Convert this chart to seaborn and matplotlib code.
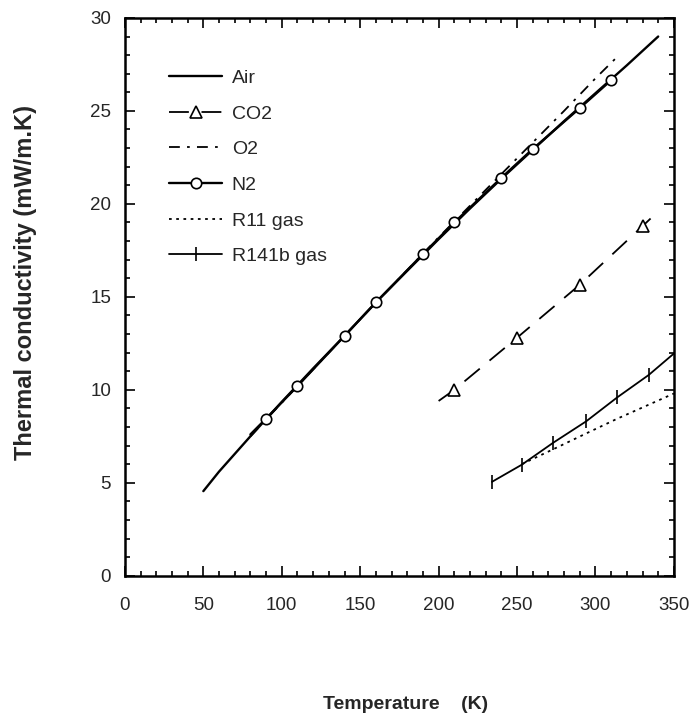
import numpy as np
import pandas as pd
import seaborn as sns
import matplotlib
matplotlib.use('Agg')
import matplotlib.pyplot as plt
from matplotlib.ticker import MultipleLocator

# values (T in K, k in mW/m.K)
air_T = [50, 60, 80, 100, 120, 140, 160, 180, 200, 220, 240, 260, 280, 300, 320, 340]
air_k = [4.55, 5.6, 7.5, 9.35, 11.15, 12.9, 14.7, 16.4, 18.1, 19.75, 21.35, 22.9, 24.45, 25.95, 27.45, 29.0]

co2_T = [200, 210, 250, 290, 330, 340]
co2_k = [9.4, 10.0, 12.8, 15.65, 18.8, 19.6]

o2_T = [80, 100, 150, 200, 220, 240, 260, 280, 300, 315]
o2_k = [7.5, 9.3, 13.8, 18.2, 19.9, 21.6, 23.3, 25.0, 26.75, 28.0]

n2_T = [80, 90, 110, 140, 160, 190, 210, 240, 260, 290, 310]
n2_k = [7.6, 8.45, 10.2, 12.9, 14.7, 17.3, 19.0, 21.4, 22.95, 25.15, 26.65]

r11_T = [253, 273, 294, 314, 334, 350]
r11_k = [6.0, 6.8, 7.65, 8.45, 9.2, 9.8]

r141b_T = [234, 253, 273, 294, 314, 334, 350]
r141b_k = [5.05, 5.97, 7.15, 8.3, 9.6, 10.8, 11.95]

sns.set_style('ticks')
plt.rcParams['font.family'] = ['Liberation Sans', 'DejaVu Sans']

fig = plt.figure(figsize=(6.94, 7.17), dpi=100)
ax = fig.add_axes([0.18, 0.197, 0.791, 0.778])

lw = 1.3
mk = dict(markerfacecolor='white', markeredgecolor='black', markeredgewidth=1.2)
sns.lineplot(x=air_T, y=air_k, ax=ax, color='black', lw=1.7, label='Air')
sns.lineplot(x=co2_T, y=co2_k, ax=ax, color='black', lw=lw,
             linestyle=(0, (11, 7)), marker='^', markersize=8.5,
             markevery=[1, 2, 3, 4], label='CO2', **mk)
sns.lineplot(x=o2_T, y=o2_k, ax=ax, color='black', lw=lw,
             linestyle=(0, (6, 4, 1.5, 4)), label='O2')
sns.lineplot(x=n2_T, y=n2_k, ax=ax, color='black', lw=1.7, marker='o', markersize=7.5,
             markevery=list(range(1, len(n2_T))), label='N2', **mk)
sns.lineplot(x=r11_T, y=r11_k, ax=ax, color='black', lw=lw,
             linestyle=(0, (1.5, 2.5)), label='R11 gas')
sns.lineplot(x=r141b_T, y=r141b_k, ax=ax, color='black', lw=lw, marker='|', markersize=10,
             markevery=list(range(0, len(r141b_T) - 1)), label='R141b gas', **mk)

ax.set_xlim(0, 350)
ax.set_ylim(0, 30)
ax.xaxis.set_major_locator(MultipleLocator(50))
ax.xaxis.set_minor_locator(MultipleLocator(10))
ax.yaxis.set_major_locator(MultipleLocator(5))
ax.yaxis.set_minor_locator(MultipleLocator(1))
ax.tick_params(which='both', direction='in', top=True, right=True, width=1.2, color='black')
ax.tick_params(which='major', length=7, labelsize=13.5)
ax.tick_params(axis='y', which='major', pad=10)
ax.tick_params(axis='x', which='major', pad=15)
ax.tick_params(which='minor', length=3.5)
for s in ax.spines.values():
    s.set_linewidth(1.8)
    s.set_color('black')

ax.set_xlabel('Temperature    (K)', fontsize=14, fontweight='bold')
ax.set_ylabel('Thermal conductivity (mW/m.K)', fontsize=17, fontweight='bold')
ax.xaxis.set_label_coords(0.512, -0.215)
ax.yaxis.set_label_coords(-0.16, 0.525)

leg = ax.legend(loc='upper left', bbox_to_anchor=(0.067, 0.922), frameon=False,
                fontsize=14, handlelength=2.7, handletextpad=0.5, labelspacing=0.93,
                borderaxespad=0)
# one marker in the middle of each legend line
for h in leg.legend_handles:
    h.set_markevery([1])

plt.savefig('out.png', dpi=100)
